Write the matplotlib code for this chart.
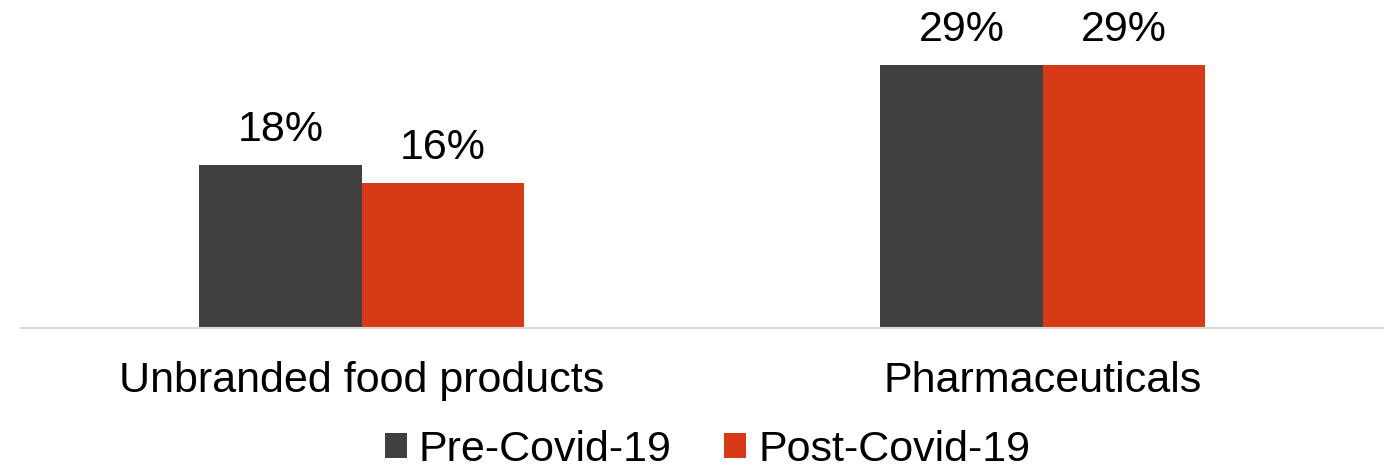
import matplotlib
matplotlib.use("Agg")
import matplotlib.pyplot as plt
import numpy as np
from matplotlib.patches import Patch

categories = ["Unbranded food products", "Pharmaceuticals"]
series_names = ["Pre-Covid-19", "Post-Covid-19"]
pre_values = [18, 29]
post_values = [16, 29]
colors = ["#404040", "#D63A16"]

plt.rcParams['font.family'] = ['Liberation Sans', 'DejaVu Sans']

fig = plt.figure(figsize=(13.96, 4.71), dpi=100)
ax = fig.add_axes([21/1396, 1 - 328/471, (1383 - 21)/1396, 317/471])

x = np.arange(len(categories))
w = 0.238
for vals, off, col in [(pre_values, -w/2, colors[0]), (post_values, w/2, colors[1])]:
    bars = ax.bar(x + off, vals, width=w, color=col, zorder=2)
    for b, v in zip(bars, vals):
        ax.annotate(f"{v}%", (b.get_x() + b.get_width()/2, v), xytext=(0, 11),
                    textcoords="offset points", ha="center", va="bottom", fontsize=31)

ax.set_xlim(-0.5, 1.5)
ax.set_ylim(0, 35)
for s in ["top", "right", "left"]:
    ax.spines[s].set_visible(False)
ax.spines["bottom"].set_color("#D9D9D9")
ax.spines["bottom"].set_linewidth(1.5)
ax.set_yticks([])
ax.set_xticks(x)
ax.set_xticklabels(categories, fontsize=31)
ax.tick_params(axis="x", length=0, pad=24)

handles = [Patch(facecolor=c, edgecolor="none") for c in colors]
fig.legend(handles, series_names, loc="center", bbox_to_anchor=(707.5/1396, 1 - 450/471),
           ncol=2, frameon=False, fontsize=31, handlelength=0.51, handleheight=0.51,
           handletextpad=0.28, columnspacing=1.23, borderpad=0)

fig.savefig("out.png", dpi=100)
